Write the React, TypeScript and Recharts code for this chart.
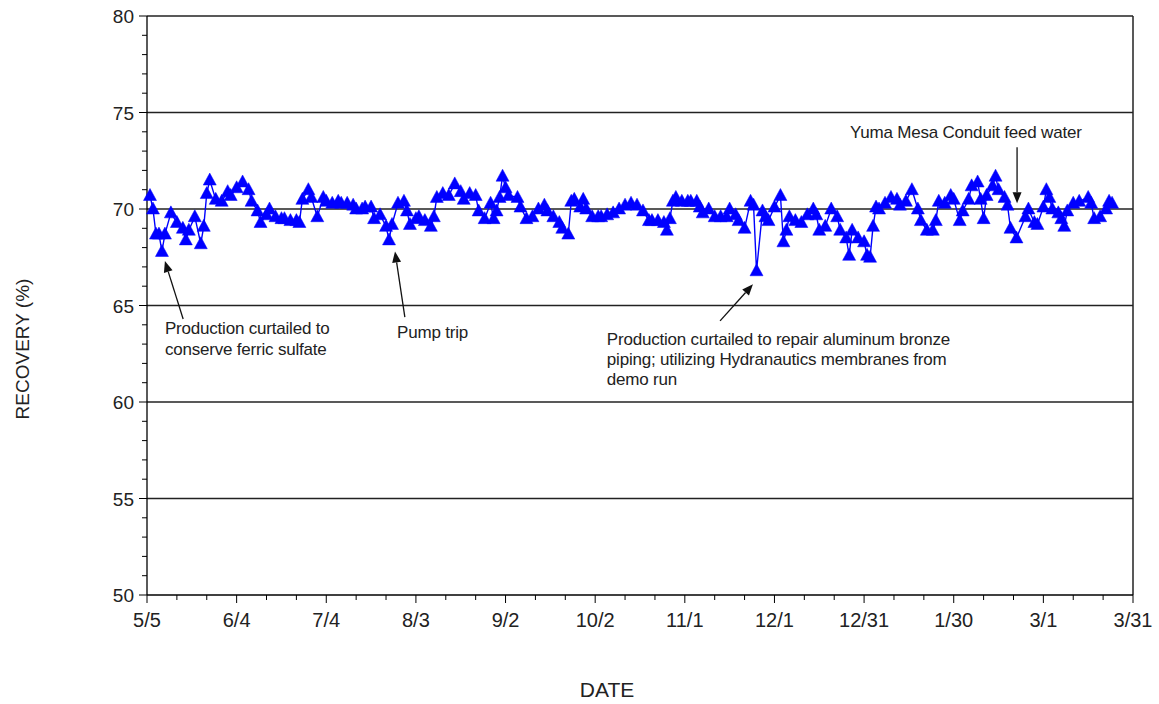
import React from "react";
import { LineChart, Line, XAxis, YAxis, ReferenceLine, ReferenceDot, Label } from "recharts";

// days counted from 5/5
const dayOffsets = [
  1, 2, 3, 4, 5, 6, 8, 10, 12, 13, 14, 16, 18, 19, 20, 21, 23, 25, 27, 28, 30, 32, 34, 35, 37, 38, 40,
  41, 43, 45, 46, 48, 50, 51, 52, 54, 55, 57, 59, 60, 62, 64, 65, 67, 69, 70, 72, 73, 75, 76, 78, 80, 81,
  82, 84, 86, 87, 88, 90, 91, 93, 95, 96, 97, 99, 101, 103, 105, 106, 108, 110, 111, 113, 115, 116, 117, 118, 119, 120, 121, 124,
  125, 127, 129, 131, 133, 134, 136, 138, 139, 141, 142, 143, 145, 146, 147, 149, 151, 152, 154, 156, 158, 160, 162, 164, 166,
  168, 169, 171, 173, 174, 175, 176, 177, 179, 181, 182, 184, 185, 186, 188, 190, 192, 194, 195, 197, 198, 200, 202, 203, 204, 206, 207,
  208, 210, 212, 213, 214, 215, 217, 219, 221, 223, 224, 225, 227, 229, 231, 232, 234, 235, 236, 238, 240, 241, 242, 243, 244, 245, 247, 249,
  251, 252, 254, 256, 258, 259, 261, 263, 264, 265, 267, 269, 270, 272, 273, 275, 276, 278, 279, 280, 281, 283, 284, 285, 287, 288, 289, 291,
  294, 295, 297, 298, 300, 301, 302, 303, 305, 306, 307, 308, 310, 312, 315, 316, 317, 319, 321, 322, 323,
];

const recovery = [
  70.7, 70.0, 68.7, 68.7, 67.8, 68.7, 69.8, 69.3, 69.0, 68.4, 68.9, 69.6, 68.2, 69.1, 70.8, 71.5, 70.5, 70.4, 70.9, 70.7, 71.1, 71.4, 71.0, 70.4, 69.9, 69.3, 69.7,
  70.0, 69.6, 69.5, 69.5, 69.4, 69.4, 69.3, 70.5, 71.0, 70.6, 69.6, 70.6, 70.4, 70.3, 70.4, 70.3, 70.3, 70.2, 70.0, 70.0, 70.1, 70.1, 69.5, 69.7, 69.1, 68.4,
  69.2, 70.3, 70.4, 69.9, 69.2, 69.5, 69.6, 69.4, 69.1, 69.6, 70.6, 70.8, 70.7, 71.3, 70.9, 70.5, 70.8, 70.7, 69.9, 69.5, 70.3, 69.5, 69.9, 70.6, 71.7, 71.1, 70.7, 70.6,
  70.1, 69.5, 69.6, 70.0, 70.2, 69.9, 69.6, 69.3, 69.0, 68.7, 70.4, 70.5, 70.1, 70.5, 70.0, 69.6, 69.6, 69.6, 69.7, 69.8, 70.0, 70.2, 70.3, 70.2, 69.9,
  69.4, 69.4, 69.4, 69.3, 68.9, 69.5, 70.4, 70.6, 70.4, 70.4, 70.4, 70.4, 70.1, 69.8, 70.0, 69.6, 69.6, 69.6, 70.0, 69.7, 69.4, 69.0, 70.4, 70.2, 66.8, 69.9, 69.6,
  69.4, 70.1, 70.7, 68.3, 68.9, 69.6, 69.4, 69.3, 69.7, 70.0, 69.7, 68.9, 69.1, 70.0, 69.6, 68.9, 68.5, 67.6, 68.9, 68.5, 68.3, 67.6, 67.5, 69.1, 70.1, 70.0, 70.3, 70.6,
  70.5, 70.2, 70.4, 71.0, 70.0, 69.4, 68.9, 68.9, 69.4, 70.4, 70.3, 70.7, 70.5, 69.4, 69.9, 70.5, 71.2, 71.4, 70.5, 69.5, 70.7, 71.2, 71.7, 71.0, 70.6, 70.2, 69.0, 68.5,
  69.6, 70.0, 69.3, 69.2, 70.1, 71.0, 70.6, 70.0, 69.8, 69.5, 69.1, 69.9, 70.3, 70.4, 70.6, 70.3, 69.5, 69.6, 70.0, 70.4, 70.3,
];

const xTicks = [0, 10, 20, 30, 40, 50, 60, 70, 80, 90, 100, 110, 120, 130, 140, 150, 160, 170, 180, 190, 200, 210, 220, 230, 240, 250, 260, 270, 280, 290, 300, 310, 320, 330];
const xTickLabels = ["5/5", "6/4", "7/4", "8/3", "9/2", "10/2", "11/1", "12/1", "12/31", "1/30", "3/1", "3/31"];
const yMajor = [50, 55, 60, 65, 70, 75, 80];
const gridLines = [55, 60, 65, 70, 75, 80];

const data = dayOffsets.map((d, i) => ({ day: d, recovery: recovery[i] }));
const yTicks: number[] = [];
for (let v = 50; v <= 80; v++) yTicks.push(v);

const FONT = "'Liberation Sans', Arial, sans-serif";
const TXT = "#222";

function DateTick(props: any) {
  const { x, y, payload } = props;
  const v = payload.value;
  const major = v % 30 === 0;
  return (
    <g>
      <line x1={x} x2={x} y1={y} y2={y + (major ? 8 : 5)} stroke="#000" strokeWidth={1} />
      {major && (
        <text x={x} y={y + 32} textAnchor="middle" fontSize={20} fill={TXT} fontFamily={FONT}>
          {xTickLabels[v / 30]}
        </text>
      )}
    </g>
  );
}

function RecoveryTick(props: any) {
  const { x, y, payload } = props;
  const v = payload.value;
  const major = yMajor.includes(v);
  return (
    <g>
      <line x1={x - (major ? 8 : 5)} x2={x} y1={y} y2={y} stroke="#000" strokeWidth={1} />
      {major && (
        <text x={x - 13} y={y + 7} textAnchor="end" fontSize={19} fill={TXT} fontFamily={FONT}>
          {v}
        </text>
      )}
    </g>
  );
}

function Triangle(p: any) {
  const { cx, cy, index } = p;
  if (cx == null || cy == null) return <g key={index} />;
  return (
    <polygon key={index} points={`${cx},${cy - 7} ${cx - 6.5},${cy + 5} ${cx + 6.5},${cy + 5}`} fill="#0000ff" stroke="#0000ff" strokeWidth={0.5} />
  );
}

function Arrow(p: any) {
  const { x1, y1, x2, y2 } = p;
  const a = Math.atan2(y2 - y1, x2 - x1);
  const len = 11, w = 4.5;
  const bx = x2 - len * Math.cos(a), by = y2 - len * Math.sin(a);
  const px = -Math.sin(a) * w, py = Math.cos(a) * w;
  return (
    <g>
      <line x1={x1} y1={y1} x2={bx} y2={by} stroke="#111" strokeWidth={1.3} />
      <polygon points={`${x2},${y2} ${bx + px},${by + py} ${bx - px},${by - py}`} fill="#111" />
    </g>
  );
}

function note(lines: string[], gap: number) {
  return (p: any) => (
    <text x={p.cx} y={p.cy} fontSize={17} fill={TXT} fontFamily={FONT} letterSpacing={-0.2}>
      {lines.map((l, i) => (
        <tspan key={i} x={p.cx} dy={i === 0 ? 6 : gap}>{l}</tspan>
      ))}
    </text>
  );
}

export default function App() {
  return (
    <div style={{ position: "absolute", left: 0, top: 0, background: "#fff" }}>
      <LineChart width={1159} height={704} data={data} margin={{ top: 16, right: 26, left: 47, bottom: 49 }}>
        <XAxis dataKey="day" type="number" domain={[0, 330]} ticks={xTicks} interval={0} height={60}
          tick={<DateTick />} tickSize={0} tickMargin={0} tickLine={false} axisLine={{ stroke: "#000", strokeWidth: 1.3 }}>
          <Label content={() => (
            <text x={607} y={697} textAnchor="middle" fontSize={21} fill={TXT} fontFamily={FONT}>DATE</text>
          )} />
        </XAxis>
        <YAxis type="number" domain={[50, 80]} ticks={yTicks} interval={0} width={100}
          tick={<RecoveryTick />} tickSize={0} tickMargin={0} tickLine={false} axisLine={{ stroke: "#000", strokeWidth: 1.3 }}>
          <Label content={() => (
            <text x={29} y={349} textAnchor="middle" fontSize={19} fill={TXT} fontFamily={FONT} transform="rotate(-90 29 349)">
              RECOVERY  (%)
            </text>
          )} />
        </YAxis>
        {gridLines.map((g) => (
          <ReferenceLine key={g} y={g} stroke="#222" strokeWidth={1.5} />
        ))}
        <ReferenceLine x={330} stroke="#222" strokeWidth={1.5} />
        <Line dataKey="recovery" stroke="#0000ff" strokeWidth={1.4} dot={(p: any) => <Triangle key={p.index} {...p} />}
          activeDot={false} isAnimationActive={false} />
        <ReferenceLine segment={[{ x: 12.1, y: 64.3 }, { x: 6.0, y: 67.3 }]} shape={(p: any) => <Arrow {...p} />} />
        <ReferenceLine segment={[{ x: 86.3, y: 64.4 }, { x: 83.0, y: 67.8 }]} shape={(p: any) => <Arrow {...p} />} />
        <ReferenceLine segment={[{ x: 191.8, y: 64.2 }, { x: 202.8, y: 66.1 }]} shape={(p: any) => <Arrow {...p} />} />
        <ReferenceLine segment={[{ x: 291.2, y: 73.2 }, { x: 291.2, y: 70.3 }]} shape={(p: any) => <Arrow {...p} />} />
        <ReferenceDot x={6.0} y={63.83} r={0} shape={note(["Production curtailed to", "conserve ferric sulfate"], 21)} />
        <ReferenceDot x={83.7} y={63.63} r={0} shape={note(["Pump trip"], 20)} />
        <ReferenceDot x={153.9} y={63.26} r={0}
          shape={note(["Production curtailed to repair aluminum bronze", "piping; utilizing Hydranautics membranes from", "demo run"], 20)} />
        <ReferenceDot x={235.3} y={73.99} r={0} shape={note(["Yuma Mesa Conduit feed water"], 20)} />
      </LineChart>
    </div>
  );
}
